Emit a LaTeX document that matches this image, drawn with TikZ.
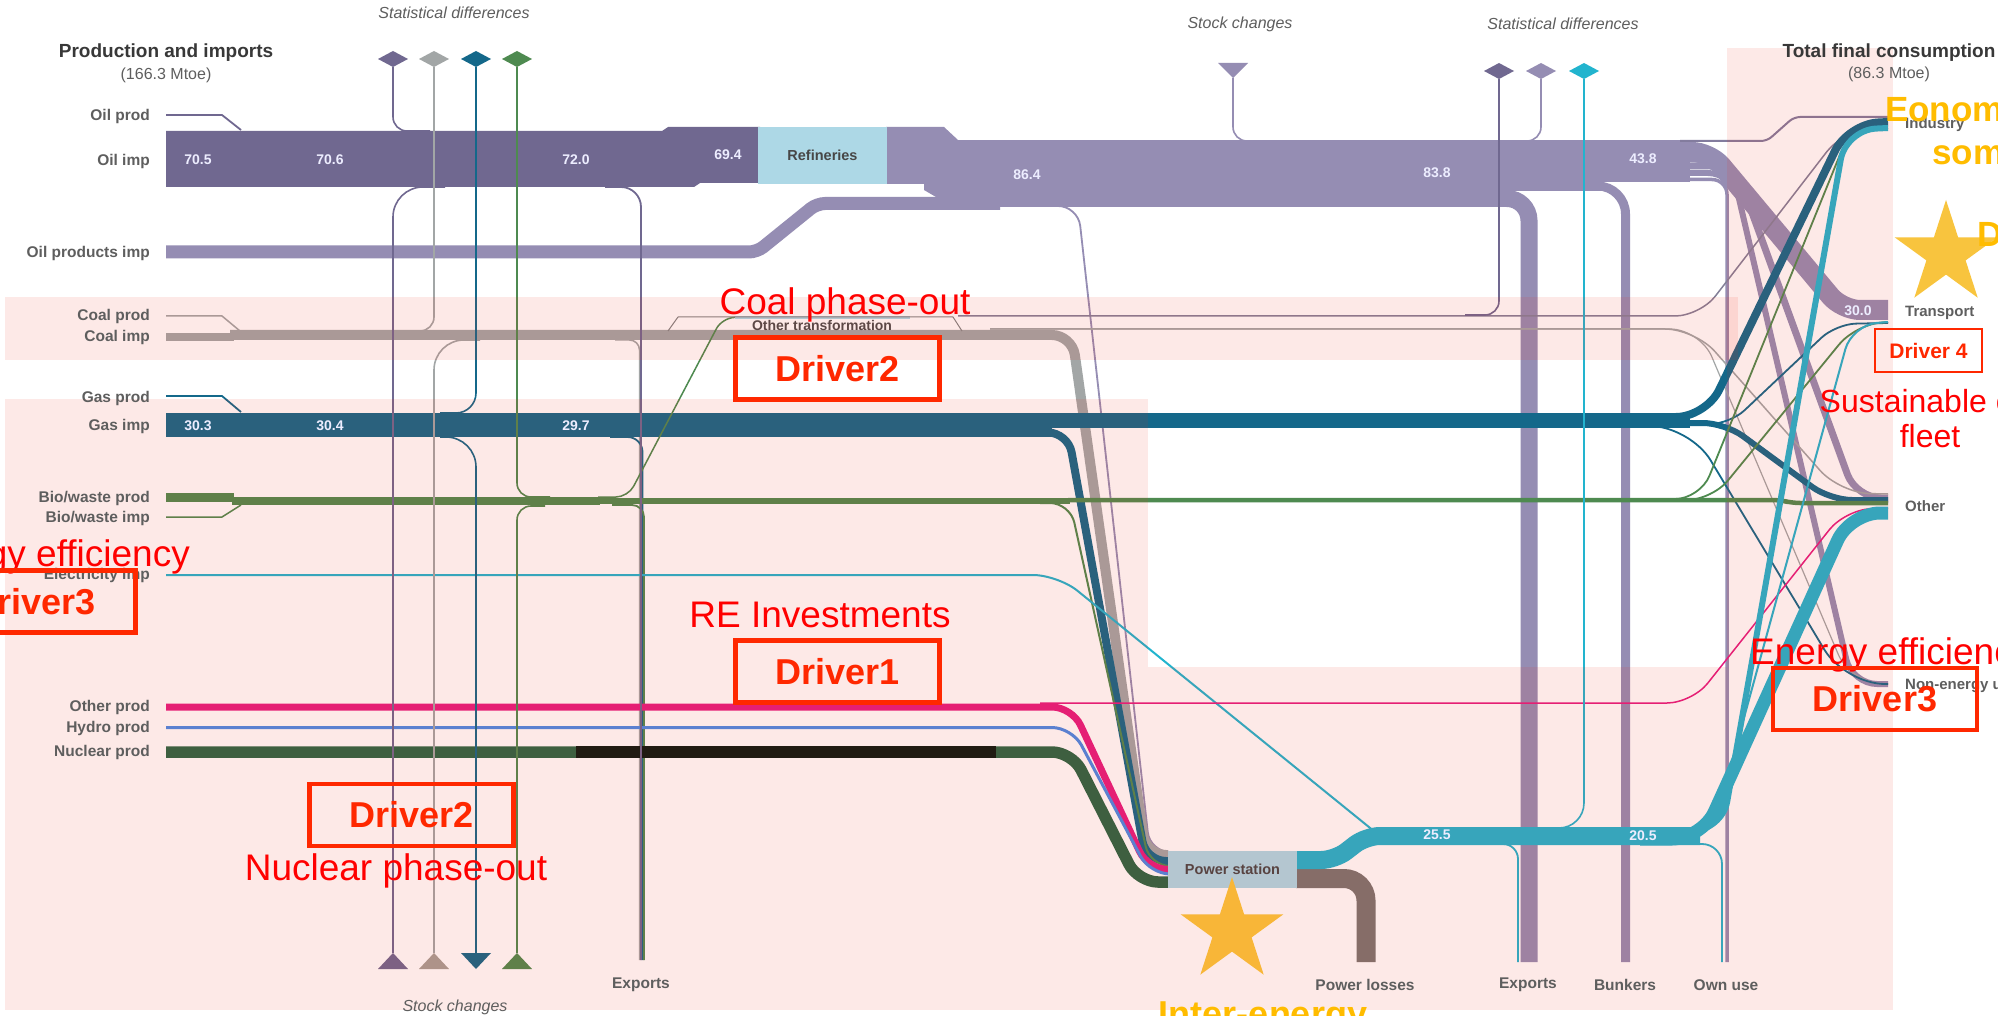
\documentclass[tikz,border=0pt]{standalone}
\usepackage{fontspec}
\setmainfont{Liberation Sans}
% flow colours
\definecolor{crude}{HTML}{706890}
\definecolor{prod}{HTML}{958DB3}
\definecolor{refbox}{HTML}{ADD8E6}
\definecolor{coal}{HTML}{A2A6A6}
\definecolor{gas}{HTML}{14688A}
\definecolor{bio}{HTML}{4E8A50}
\definecolor{elec}{HTML}{22B4CE}
\definecolor{othp}{HTML}{E41E80}
\definecolor{hydro}{HTML}{4A8AE6}
\definecolor{nuc}{HTML}{2A6646}
\definecolor{nucoff}{HTML}{0A1A12}
\definecolor{loss}{HTML}{7A7572}
\definecolor{labgray}{HTML}{5E5E5E}
\definecolor{tint}{RGB}{245,40,20}
\definecolor{drvred}{RGB}{255,40,0}
\definecolor{annred}{RGB}{255,0,0}
\definecolor{goldtxt}{RGB}{255,188,0}
\definecolor{starA}{RGB}{248,196,62}
\definecolor{starB}{RGB}{248,182,56}
\tikzset{
  lab/.style={anchor=east, text=labgray, font=\fontsize{15.5}{17}\selectfont\bfseries, inner sep=0pt},
  rlab/.style={anchor=west, text=labgray, font=\fontsize{15}{17}\selectfont\bfseries, inner sep=0pt},
  blab/.style={text=labgray, font=\fontsize{15.5}{17}\selectfont\bfseries, inner sep=0pt},
  num/.style={text=white!93!blue, font=\fontsize{14}{16}\selectfont\bfseries, inner sep=0pt},
  ital/.style={text=labgray, font=\fontsize{16}{18}\selectfont\itshape, inner sep=0pt},
  head/.style={text=black!78, font=\fontsize{19}{21}\selectfont\bfseries, inner sep=0pt},
  subhead/.style={text=labgray, font=\fontsize{16}{18}\selectfont, inner sep=0pt},
  procbox/.style={fill=refbox, inner sep=0pt, text=black!72, font=\fontsize{14.5}{16}\selectfont\bfseries},
  drvbox/.style={draw=drvred, line width=4.5pt, minimum width=204pt, minimum height=62pt, inner sep=0pt,
                 text=drvred, font=\fontsize{36}{40}\selectfont\bfseries},
  ann/.style={text=annred, font=\fontsize{37}{40}\selectfont, inner sep=0pt},
  goldann/.style={text=goldtxt, font=\fontsize{35}{38}\selectfont\bfseries, inner sep=0pt},
  tintbox/.style={fill=tint, fill opacity=0.1, draw=none},
  sd/.style={line width=1.6pt},
}
\begin{document}
\begin{tikzpicture}[x=1pt,y=-1pt]
\useasboundingbox (0,0) rectangle (1998,1016);
\fill[white] (0,0) rectangle (1998,1016);

% ---------------- oil ----------------
\draw[crude, line width=1.8pt, line join=round] (166,115) -- (222,115) -- (241,130);
\fill[crude] (166,131) -- (662,131) -- (668,127) -- (760,127) -- (760,183) -- (700,183) -- (694,187) -- (166,187) -- cycle;
\draw[prod, line width=13pt, rounded corners=8pt] (166,252) -- (757,252) -- (817,203.5) -- (1000,203.5);
\fill[prod] (886,127) -- (944,127) -- (958,140) -- (958,197) -- (936,197) -- (924,190) -- (924,184) -- (886,184) -- cycle;
\fill[prod] (956,140) rectangle (1470,207);
\fill[prod] (1469,140) rectangle (1601,191);
\fill[prod] (1600,140) rectangle (1690,182);
% oil products leaving the main band
\draw[prod, line width=17pt, rounded corners=22pt] (1440,198.5) -- (1529,198.5) -- (1529,962);
\draw[prod, line width=9pt, rounded corners=28pt] (1560,186) -- (1625.5,186) -- (1625.5,962);
\draw[prod, line width=3.5pt, rounded corners=15pt] (1680,179.5) -- (1727,179.5) -- (1727,962);
\draw[prod, line width=6pt, rounded corners=25pt] (1680,173) -- (1733,173) -- (1852,684) -- (1888,684);
\draw[prod, line width=7pt, rounded corners=25pt] (1680,166) -- (1735,166) -- (1856,498) -- (1888,498);
\draw[prod, line width=20pt, rounded corners=18pt] (1680,152) -- (1710,152) -- (1842,310) -- (1888,310);
\draw[prod!88!black, line width=2pt, rounded corners=6pt] (1680,141) -- (1767,141) -- (1794,117) -- (1888,117);
% oil to power station
\draw[prod, line width=1.8pt, rounded corners=20pt] (1040,206) -- (1078,206) -- (1150,852) -- (1168,852);
% oil stock change and statistical differences
\draw[prod, sd, rounded corners=14pt] (1233,78) -- (1233,141) -- (1265,141);
\draw[prod, sd, rounded corners=14pt] (1541,79) -- (1541,141) -- (1510,141);

% ---------------- coal ----------------
\draw[coal, line width=1.5pt, line join=round] (166,316) -- (222,316) -- (240,331);
\draw[coal, line width=8pt] (166,337) -- (234,337);
\draw[coal, line width=10pt, rounded corners=20pt] (230,335) -- (1072,335) -- (1146,855) -- (1168,855);
\draw[coal, line width=1.5pt, rounded corners=30pt] (990,329) -- (1695,329) -- (1840,493) -- (1888,494);
\draw[coal, line width=1.2pt, rounded corners=30pt] (990,329) -- (1700,329) -- (1850,682) -- (1888,684);
\draw[coal, line width=1.5pt, rounded corners=10pt] (615,340) -- (639.5,340) -- (639.5,960);
% other transformation output
\draw[crude!60!coal, line width=1.5pt, rounded corners=25pt] (958,316) -- (1700,316) -- (1842,132) -- (1888,126);
\draw[crude, sd, rounded corners=14pt] (1499,79) -- (1499,315) -- (1465,315);

% ---------------- gas ----------------
\draw[gas, line width=1.8pt, line join=round] (166,396) -- (222,396) -- (241,412);
\fill[gas] (166,413) rectangle (1052,437);
\fill[gas] (1050,413) rectangle (1690,427.5);
\draw[gas, line width=8pt, rounded corners=20pt] (1000,432.5) -- (1068,432.5) -- (1146,861) -- (1168,861);
\draw[gas, line width=1.8pt, rounded corners=40pt] (1620,426) -- (1690,426) -- (1845,684) -- (1888,684);
\draw[gas, line width=1.8pt, rounded corners=20pt] (1640,424) -- (1730,424) -- (1836,324) -- (1888,323);
\draw[gas, line width=6pt, rounded corners=22pt] (1640,423) -- (1725,423) -- (1830,500) -- (1888,500);
\draw[gas, line width=8pt, rounded corners=30pt] (1640,417) -- (1706,417) -- (1848,124) -- (1888,122);
\draw[gas, line width=1.8pt, rounded corners=15pt] (610,437) -- (642.5,437) -- (642.5,960);

% ---------------- bio/waste ----------------
\draw[bio, line width=9pt] (166,497) -- (234,497);
\draw[bio, line width=1.5pt, line join=round] (166,517) -- (222,517) -- (241,505);
\draw[bio, line width=8pt] (232,501) -- (600,501);
\draw[bio, line width=6pt] (598,501) -- (1070,501);
\draw[bio, line width=4.5pt, rounded corners=8pt] (1068,500) -- (1780,500) -- (1792,503) -- (1888,503);
\draw[bio, line width=2pt, rounded corners=20pt] (1040,503) -- (1070,503) -- (1150,866) -- (1168,866);
\draw[bio, line width=1.5pt, rounded corners=12pt] (598,497) -- (628,497) -- (722,318) -- (745,317);
\draw[bio, line width=1.8pt, rounded corners=12pt] (612,505) -- (644,505) -- (644,960);
\draw[bio, line width=1.8pt, rounded corners=25pt] (1640,499) -- (1700,499) -- (1850,130) -- (1888,128);
\draw[bio, line width=1.8pt, rounded corners=25pt] (1640,500) -- (1712,500) -- (1855,325) -- (1888,322);

% ---------------- electricity imports ----------------
\draw[elec, line width=2pt, rounded corners=25pt] (166,575) -- (1058,575) -- (1380,836);

% ---------------- other, hydro, nuclear ----------------
\draw[othp, line width=7pt, rounded corners=20pt] (166,707) -- (1072,707) -- (1148,869.5) -- (1168,869.5);
\draw[othp, line width=1.5pt, rounded corners=25pt] (1040,703) -- (1692,703) -- (1845,510) -- (1888,508);
\draw[hydro, line width=3pt, rounded corners=20pt] (166,727.5) -- (1072,727.5) -- (1150,874) -- (1168,874);
\draw[nuc, line width=11.5pt, rounded corners=20pt] (166,752) -- (1072,752) -- (1138,882) -- (1168,882);
\draw[nucoff, line width=11.5pt] (576,752) -- (996,752);

% ---------------- power station outputs ----------------
\draw[loss, line width=19pt, rounded corners=22pt] (1296,878.5) -- (1366,878.5) -- (1366,962);
\draw[elec, line width=18pt, rounded corners=14pt] (1296,860) -- (1335,860) -- (1366,836) -- (1700,836);
\draw[elec, line width=1.8pt, rounded corners=15pt] (1480,844) -- (1518,844) -- (1518,962);
\draw[elec, line width=1.8pt, rounded corners=20pt] (1660,844) -- (1722,844) -- (1722,962);
\draw[elec, line width=13pt, rounded corners=30pt] (1640,839) -- (1702,839) -- (1850,513) -- (1888,513);
\draw[elec, line width=6pt, rounded corners=30pt] (1640,831) -- (1722,831) -- (1846,130) -- (1888,128);
\draw[elec, line width=2pt, rounded corners=25pt] (1640,834) -- (1712,834) -- (1852,325) -- (1888,322);
\draw[elec, sd, rounded corners=25pt] (1584,79) -- (1584,828) -- (1550,828);

% ---------------- statistical differences and stock changes (left) ----------------
\draw[crude, sd, rounded corners=14pt] (393,67) -- (393,131) -- (430,131);
\draw[crude, sd, rounded corners=30pt] (445,187) -- (393,187) -- (393,953);
\draw[coal, sd, rounded corners=14pt] (434,67) -- (434,331) -- (405,331);
\draw[coal, sd, rounded corners=30pt] (480,340) -- (434,340) -- (434,953);
\draw[gas, sd, rounded corners=20pt] (476,67) -- (476,413) -- (440,413);
\draw[gas, sd, rounded corners=30pt] (440,437) -- (476,437) -- (476,953);
\draw[bio, sd, rounded corners=14pt] (517,67) -- (517,497) -- (550,497);
\draw[bio, sd, rounded corners=14pt] (545,506) -- (517,506) -- (517,953);
\draw[crude, line width=1.8pt, rounded corners=20pt] (605,187) -- (641,187) -- (641,960);

% markers
\fill[crude] (378,59) -- (393,51) -- (408,59) -- (393,67) -- cycle;
\fill[coal] (419,59) -- (434,51) -- (449,59) -- (434,67) -- cycle;
\fill[gas] (461,59) -- (476,51) -- (491,59) -- (476,67) -- cycle;
\fill[bio] (502,59) -- (517,51) -- (532,59) -- (517,67) -- cycle;
\fill[crude] (378,969) -- (408,969) -- (393,953) -- cycle;
\fill[coal!85!brown] (419,969) -- (449,969) -- (434,953) -- cycle;
\fill[gas] (461,953) -- (491,953) -- (476,969) -- cycle;
\fill[bio] (502,969) -- (532,969) -- (517,953) -- cycle;
\fill[prod] (1218,63) -- (1248,63) -- (1233,78) -- cycle;
\fill[crude] (1484,71) -- (1499,63) -- (1514,71) -- (1499,79) -- cycle;
\fill[prod] (1526,71) -- (1541,63) -- (1556,71) -- (1541,79) -- cycle;
\fill[elec] (1569,71) -- (1584,63) -- (1599,71) -- (1584,79) -- cycle;

% ---------------- process nodes ----------------
\node[procbox, minimum width=129pt, minimum height=57pt] (refin) at (822.5,155.5) {Refineries};
\node[procbox, minimum width=129pt, minimum height=37pt] (pstation) at (1232.5,869.5) {Power station};
\fill[refbox] (735,316) rectangle (910,319);
\draw[coal!80!black, line width=1pt, line join=round] (668,331) -- (678,317) -- (953,317) -- (962,331);
\node[text=black!70, font=\fontsize{14}{15}\selectfont\bfseries, inner sep=0pt] (othtr) at (822,325) {Other transformation};

% ---------------- highlighted areas ----------------
\fill[tintbox] (5,297) rectangle (1738,360);
\fill[tintbox] (5,399) rectangle (1148,667);
\fill[tintbox] (5,667) rectangle (1893,1010);
\fill[tintbox] (1727,48) rectangle (1893,667);

% ---------------- values ----------------
\node[num] (v1) at (198,160) {70.5};
\node[num] (v2) at (330,160) {70.6};
\node[num] (v3) at (576,160) {72.0};
\node[num] (v4) at (728,155) {69.4};
\node[num] (v5) at (1027,175) {86.4};
\node[num] (v6) at (1437,173) {83.8};
\node[num] (v7) at (1643,159) {43.8};
\node[num] (v8) at (1858,311) {30.0};
\node[num] (v9) at (198,426) {30.3};
\node[num] (v10) at (330,426) {30.4};
\node[num] (v11) at (576,426) {29.7};
\node[num] (v12) at (1437,835) {25.5};
\node[num] (v13) at (1643,836) {20.5};

% ---------------- labels ----------------
\node[head] (hprod) at (166,53) {Production and imports};
\node[subhead] (hprodv) at (166,75) {(166.3 Mtoe)};
\node[head] (htfc) at (1889,53) {Total final consumption};
\node[subhead] (htfcv) at (1889,74) {(86.3 Mtoe)};
\node[ital] (sdl) at (454,13) {Statistical differences};
\node[ital] (scr) at (1240,24) {Stock changes};
\node[ital] (sdr) at (1563,24) {Statistical differences};
\node[ital] (scl) at (455,1007) {Stock changes};

\node[lab] (l1) at (150,116) {Oil prod};
\node[lab] (l2) at (150,161) {Oil imp};
\node[lab] (l3) at (150,253) {Oil products imp};
\node[lab] (l4) at (150,316) {Coal prod};
\node[lab] (l5) at (150,337) {Coal imp};
\node[lab] (l6) at (150,398) {Gas prod};
\node[lab] (l7) at (150,426) {Gas imp};
\node[lab] (l8) at (150,498) {Bio/waste prod};
\node[lab] (l9) at (150,518) {Bio/waste imp};
\node[lab] (l10) at (150,575) {Electricity imp};
\node[lab] (l11) at (150,707) {Other prod};
\node[lab] (l12) at (150,728) {Hydro prod};
\node[lab] (l13) at (150,752) {Nuclear prod};

\node[rlab] (r1) at (1905,125) {Industry};
\node[rlab] (r2) at (1905,313) {Transport};
\node[rlab] (r3) at (1905,506) {Other};
\node[rlab] (r4) at (1905,686) {Non-energy use};

\node[blab] (b1) at (641,985) {Exports};
\node[blab] (b2) at (1365,985) {Power losses};
\node[blab] (b3) at (1528,985) {Exports};
\node[blab] (b4) at (1625,985) {Bunkers};
\node[blab] (b5) at (1726,985) {Own use};

% ---------------- drivers ----------------
\node[ann, anchor=base] (a1) at (845,315) {Coal phase-out};
\node[drvbox] (d2a) at (837.5,368.5) {Driver2};
\node[ann, anchor=base] (a2) at (820,627) {RE Investments};
\node[drvbox] (d1) at (837.5,671.5) {Driver1};
\node[ann, anchor=base east] (a3) at (190,566) {Energy efficiency};
\node[drvbox] (d3a) at (33.5,601.5) {Driver3};
\node[drvbox] (d2b) at (411.5,815) {Driver2};
\node[ann, anchor=base] (a4) at (396,880) {Nuclear phase-out};
\node[ann, anchor=base west] (a5) at (1750,664) {Energy efficiency};
\node[drvbox] (d3b) at (1875,699) {Driver3};
\node[drvbox, line width=2.2pt, minimum width=107pt, minimum height=43pt,
      font=\fontsize{21}{24}\selectfont\bfseries] (d4) at (1928.5,350.5) {Driver 4};
\node[ann, font=\fontsize{32}{35}\selectfont, anchor=base] (a6) at (1930,412) {Sustainable car};
\node[ann, font=\fontsize{32}{35}\selectfont, anchor=base] (a7) at (1930,447) {fleet};

% stars and gold notes
\fill[starA, shift={(1946,254)}] (0,-54) -- (12.1,-16.7) -- (51.4,-16.7) -- (19.6,6.4) -- (31.7,43.7)
  -- (0,20.6) -- (-31.7,43.7) -- (-19.6,6.4) -- (-51.4,-16.7) -- (-12.1,-16.7) -- cycle;
\fill[starB, shift={(1232,931)}] (0,-54) -- (12.1,-16.7) -- (51.4,-16.7) -- (19.6,6.4) -- (31.7,43.7)
  -- (0,20.6) -- (-31.7,43.7) -- (-19.6,6.4) -- (-51.4,-16.7) -- (-12.1,-16.7) -- cycle;
\node[goldann, anchor=base west] (g1) at (1885,122) {Eonom};
\node[goldann, anchor=base west] (g2) at (1932,165) {som};
\node[goldann, anchor=base west] (g3) at (1977,247) {D};
\node[goldann, font=\fontsize{36}{40}\selectfont\bfseries, anchor=base] (g4) at (1263,1026) {Inter-energy};
\end{tikzpicture}
\end{document}
